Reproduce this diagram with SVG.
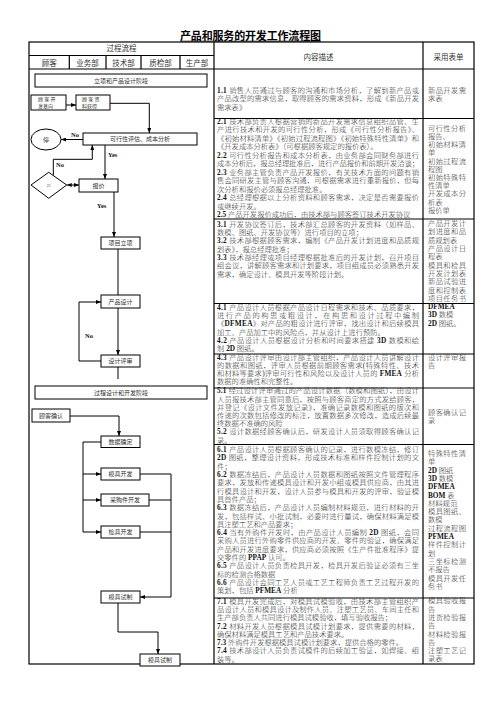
<svg xmlns="http://www.w3.org/2000/svg" width="496" height="702" viewBox="0 0 496 702">
<style>
.t{font-family:"Liberation Serif","Noto Sans CJK SC",serif;font-size:7.3px;font-weight:300;fill:#2a2a2a}
.b{font-weight:bold;fill:#111}
.h{font-family:"Liberation Serif","Noto Sans CJK SC",serif;font-size:7.5px;fill:#333;text-anchor:middle}
.f{font-family:"Liberation Serif","Noto Sans CJK SC",serif;font-size:6px;fill:#333;text-anchor:middle}
.s{font-family:"Liberation Serif","Noto Sans CJK SC",serif;font-size:5px;fill:#333}
.yn{font-family:"Liberation Serif",serif;font-weight:bold;font-size:6.5px;fill:#111}
.box{fill:#fff;stroke:#000;stroke-width:1}
.ln{fill:none;stroke:#000;stroke-width:1}
.tb{fill:none;stroke:#000;stroke-width:1.2}
</style>
<defs>
<marker id="ar" viewBox="0 0 5 4" markerWidth="5" markerHeight="4" refX="5" refY="2" orient="auto-start-reverse" markerUnits="userSpaceOnUse"><path d="M0,0L5,2L0,4z" fill="#000"/></marker>
</defs>
<rect width="496" height="702" fill="#fff"/>
<text x="180" y="39.5" textLength="141" style="font-family:'Liberation Serif','Noto Sans CJK SC',serif;font-weight:bold;font-size:11px;fill:#000">产品和服务的开发工作流程图</text>
<line x1="180" y1="41.2" x2="321" y2="41.2" stroke="#000" stroke-width="0.8"/>
<g id="table">
<rect x="29" y="42" width="445" height="622" class="tb"/>
<path class="tb" d="M214,42V664M423,42V664M29,55.5H214M29,69H474M69.3,55.5V69M106,55.5V69M141,55.5V69M180,55.5V69M214,118.5H474M214,219H474M214,303.5H474M214,354H474M214,388H474M214,444.5H474M214,598H474"/>
<text class="h" x="121.5" y="51.2">过程流程</text>
<text class="h" x="49.3" y="65.5">顾客</text>
<text class="h" x="87.6" y="65.5">业务部</text>
<text class="h" x="123.5" y="65.5">技术部</text>
<text class="h" x="160.5" y="65.5">质检部</text>
<text class="h" x="197" y="65.5">生产部</text>
<text class="h" x="318.5" y="60">内容描述</text>
<text class="h" x="448.5" y="60">采用表单</text>
</g>
<g id="content" class="t">
<text x="217" y="92.8" textLength="202" lengthAdjust="spacing"><tspan class="b">1.1 </tspan>销售人员通过与顾客的沟通和市场分析，了解到新产品或</text>
<text x="217" y="101.1" textLength="202" lengthAdjust="spacing">产品改型的需求信息，取得顾客的需求资料，形成《新品开发</text>
<text x="217" y="109.5">需求表》</text>
<text x="217" y="123.8" textLength="202" lengthAdjust="spacing"><tspan class="b">2.1 </tspan>技术部负责人根据营销的新品开发需求信息组织品管、生</text>
<text x="217" y="132.3" textLength="202" lengthAdjust="spacing">产进行技术和开发的可行性分析，形成《可行性分析报告》、</text>
<text x="217" y="140.8" textLength="202" lengthAdjust="spacing">《初始材料清单》《初始过程流程图》《初始特殊特性清单》和</text>
<text x="217" y="149.3">《开发成本分析表》（可根据顾客规定的报价表）。</text>
<text x="217" y="157.8" textLength="202" lengthAdjust="spacing"><tspan class="b">2.2 </tspan>可行性分析报告和成本分析表，由业务部会同财务部进行</text>
<text x="217" y="166.3" textLength="202" lengthAdjust="spacing">成本分析后，报总经理批准后，进行产品报价和前期开发洽谈；</text>
<text x="217" y="174.8" textLength="202" lengthAdjust="spacing"><tspan class="b">2.3 </tspan>业务部主管负责产品开发报价，有关技术方面的问题有销</text>
<text x="217" y="183.3" textLength="202" lengthAdjust="spacing">售会同研发主管与顾客沟通，可根据需求进行重新报价，但每</text>
<text x="217" y="191.8">次分析和报价必须报总经理批准。</text>
<text x="217" y="200.3" textLength="202" lengthAdjust="spacing"><tspan class="b">2.4 </tspan>总经理根据以上分析资料和顾客需求，决定是否需要报价</text>
<text x="217" y="208.8">或继续开发。</text>
<text x="217" y="217.3"><tspan class="b">2.5 </tspan>产品开发报价成功后，由技术部与顾客签订技术开发协议</text>
<text x="217" y="226.8" textLength="202" lengthAdjust="spacing"><tspan class="b">3.1 </tspan>开发协议签订后，技术部汇总顾客的开发资料（如样品、</text>
<text x="217" y="235.1">数模、图纸、开发协议等）进行项目的立项；</text>
<text x="217" y="243.4" textLength="202" lengthAdjust="spacing"><tspan class="b">3.2 </tspan>技术部根据顾客需求，编制《产品开发计划进度和品质规</text>
<text x="217" y="251.7">划表》，报总经理批准；</text>
<text x="217" y="260" textLength="202" lengthAdjust="spacing"><tspan class="b">3.3 </tspan>技术部经理或项目经理根据批准后的开发计划，召开项目</text>
<text x="217" y="268.3" textLength="202" lengthAdjust="spacing">组会议，讲解顾客需求和计划要求，项目组成员必须熟悉开发</text>
<text x="217" y="276.6">需求，确定设计、模具开发等阶段计划。</text>
<text x="217" y="309.5" textLength="202" lengthAdjust="spacing"><tspan class="b">4.1 </tspan>产品设计人员根据产品设计日程需求和技术、品质要求，</text>
<text x="217" y="317.8" textLength="202" lengthAdjust="spacing">进行产品的构思或粗设计，在构思和设计过程中编制</text>
<text x="217" y="326.1" textLength="202" lengthAdjust="spacing">《<tspan class="b">DFMEA</tspan>》对产品的粗设计进行评审，找出设计和后续模具</text>
<text x="217" y="334.5">加工、产品加工中的风险点，并从设计上进行预防。</text>
<text x="217" y="342.8" textLength="202" lengthAdjust="spacing"><tspan class="b">4.2 </tspan>产品设计人员根据设计分析和时间要求搭建 <tspan class="b">3D</tspan> 数模和绘</text>
<text x="217" y="351.1">制 <tspan class="b">2D</tspan> 图纸。</text>
<text x="217" y="359.5" textLength="202" lengthAdjust="spacing"><tspan class="b">4.3 </tspan>产品设计评审由设计部主管组织，产品设计人员讲解设计</text>
<text x="217" y="367.8" textLength="202" lengthAdjust="spacing">的数据和图纸，评审人员根据前期顾客需求(特殊特性、技术</text>
<text x="217" y="376.1" textLength="202" lengthAdjust="spacing">和材料等要求)评审可行性和风险以及设计人员的 <tspan class="b">FMEA</tspan> 分析</text>
<text x="217" y="384.4">数据的准确性和完整性。</text>
<text x="217" y="393.3" textLength="202" lengthAdjust="spacing"><tspan class="b">5.1 </tspan>经过设计评审通过的产品设计数据（数模和图纸），由设计</text>
<text x="217" y="401.5" textLength="202" lengthAdjust="spacing">人员报技术部主管同意后，按照与顾客商定的方式发给顾客，</text>
<text x="217" y="409.7" textLength="202" lengthAdjust="spacing">并登记《设计文件发放记录》，准确记录数模和图纸的版次和</text>
<text x="217" y="417.9" textLength="202" lengthAdjust="spacing">传递的次数包括修改的标注，放置数据多次修改，造成后续最</text>
<text x="217" y="426.1">终数据不准确的风险</text>
<text x="217" y="434.3" textLength="202" lengthAdjust="spacing"><tspan class="b">5.2 </tspan>设计数据经顾客确认后，研发设计人员须取得顾客确认记</text>
<text x="217" y="442.5">录。</text>
<text x="217" y="452.1" textLength="202" lengthAdjust="spacing"><tspan class="b">6.1 </tspan>产品设计人员根据顾客确认的记录，进行数模冻结，修订</text>
<text x="217" y="460.4" textLength="202" lengthAdjust="spacing"><tspan class="b">2D</tspan> 图纸，整理设计资料，形成技术标准和样件控制计划的文</text>
<text x="217" y="468.7">件；</text>
<text x="217" y="477" textLength="202" lengthAdjust="spacing"><tspan class="b">6.2 </tspan>数据冻结后，产品设计人员数据和图纸按照文件管理程序</text>
<text x="217" y="485.3" textLength="202" lengthAdjust="spacing">要求，发放和传递模具设计和开发小组或模具供应商，由其进</text>
<text x="217" y="493.6" textLength="202" lengthAdjust="spacing">行模具设计和开发，设计人员参与模具和开发的评审，验证模</text>
<text x="217" y="501.9">具首件产品；</text>
<text x="217" y="510.2" textLength="202" lengthAdjust="spacing"><tspan class="b">6.3 </tspan>数据冻结后，产品设计人员编制材料规范，进行材料的开</text>
<text x="217" y="518.5" textLength="202" lengthAdjust="spacing">发，包括样试、小批试制，必要时进行量试，确保材料满足模</text>
<text x="217" y="526.8">具注塑工艺和产品要求；</text>
<text x="217" y="535.1" textLength="202" lengthAdjust="spacing"><tspan class="b">6.4 </tspan>当有外购件开发时，由产品设计人员编制 <tspan class="b">2D</tspan> 图纸，会同</text>
<text x="217" y="543.4" textLength="202" lengthAdjust="spacing">采购人员进行外购零件供应商的开发、零件的验证，确保满足</text>
<text x="217" y="551.7" textLength="202" lengthAdjust="spacing">产品和开发进度要求，供应商必须按照《生产件批准程序》提</text>
<text x="217" y="560">交零件的 <tspan class="b">PPAP</tspan> 认可。</text>
<text x="217" y="568.3" textLength="202" lengthAdjust="spacing"><tspan class="b">6.5 </tspan>产品设计人员负责检具开发，检具开发后验证必须有三坐</text>
<text x="217" y="576.6">标的检测合格数据</text>
<text x="217" y="584.9" textLength="202" lengthAdjust="spacing"><tspan class="b">6.6 </tspan>产品设计会同工艺人员或工艺工程师负责工艺过程开发的</text>
<text x="217" y="593.2">策划，包括 <tspan class="b">PFMEA</tspan> 分析</text>
<text x="217" y="603.8" textLength="202" lengthAdjust="spacing"><tspan class="b">7.1 </tspan>模具开发完成后，对模具试模验收，由技术部主管组织产</text>
<text x="217" y="612" textLength="202" lengthAdjust="spacing">品设计人员和模具设计及制作人员、注塑工艺员、车间主任和</text>
<text x="217" y="620.3">生产部负责人共同进行模具试模验收，填写验收报告；</text>
<text x="217" y="628.5" textLength="202" lengthAdjust="spacing"><tspan class="b">7.2 </tspan>材料开发人员根据模具试模计划要求，提供需要的材料，</text>
<text x="217" y="636.8">确保材料满足模具工艺和产品技术要求。</text>
<text x="217" y="645"><tspan class="b">7.3 </tspan>外购件开发根据模具试模计划要求，提供合格的零件。</text>
<text x="217" y="653.3" textLength="202" lengthAdjust="spacing"><tspan class="b">7.4 </tspan>技术部设计人员负责试模件的后续加工验证，如焊接、组</text>
<text x="217" y="661.5">装等。</text>
</g>
<g id="forms" class="t">
<text x="428" y="92.8" textLength="38" lengthAdjust="spacing">新品开发需</text>
<text x="428" y="101.1">求表</text>
<text x="428" y="130.8" textLength="38" lengthAdjust="spacing">可行性分析</text>
<text x="428" y="139">报告、</text>
<text x="428" y="147.2" textLength="38" lengthAdjust="spacing">初始材料清</text>
<text x="428" y="155.4">单</text>
<text x="428" y="163.6" textLength="38" lengthAdjust="spacing">初始过程流</text>
<text x="428" y="171.8">程图</text>
<text x="428" y="180" textLength="38" lengthAdjust="spacing">初始特殊特</text>
<text x="428" y="188.2">性清单</text>
<text x="428" y="196.4" textLength="38" lengthAdjust="spacing">开发成本分</text>
<text x="428" y="204.6">析表</text>
<text x="428" y="212.8">报价单</text>
<text x="428" y="226.1" textLength="38" lengthAdjust="spacing">产品开发计</text>
<text x="428" y="234.4" textLength="38" lengthAdjust="spacing">划进度和品</text>
<text x="428" y="242.8">质规划表</text>
<text x="428" y="251.1" textLength="38" lengthAdjust="spacing">产品设计日</text>
<text x="428" y="259.4">程表</text>
<text x="428" y="267.8" textLength="38" lengthAdjust="spacing">模具和检具</text>
<text x="428" y="276.1" textLength="38" lengthAdjust="spacing">开发计划表</text>
<text x="428" y="284.4" textLength="38" lengthAdjust="spacing">新品试验进</text>
<text x="428" y="292.7" textLength="38" lengthAdjust="spacing">度和控制表</text>
<text x="428" y="301.1" textLength="38" lengthAdjust="spacing">项目任务书</text>
<text x="428" y="308.8"><tspan class="b">DFMEA</tspan></text>
<text x="428" y="317.1"><tspan class="b">3D</tspan> 数模</text>
<text x="428" y="325.5"><tspan class="b">2D</tspan> 图纸。</text>
<text x="428" y="359.5" textLength="38" lengthAdjust="spacing">设计评审报</text>
<text x="428" y="367.8">告</text>
<text x="428" y="414.8" textLength="38" lengthAdjust="spacing">顾客确认记</text>
<text x="428" y="422.8">录</text>
<text x="428" y="456.1" textLength="38" lengthAdjust="spacing">特殊特性清</text>
<text x="428" y="464.4">单</text>
<text x="428" y="472.7"><tspan class="b">2D</tspan> 图纸</text>
<text x="428" y="481"><tspan class="b">3D</tspan> 数模</text>
<text x="428" y="489.3"><tspan class="b">DFMEA</tspan></text>
<text x="428" y="497.6"><tspan class="b">BOM</tspan> 表</text>
<text x="428" y="505.9">材料规范</text>
<text x="428" y="514.1" textLength="38" lengthAdjust="spacing">模具图纸、</text>
<text x="428" y="522.4">数模</text>
<text x="428" y="530.7" textLength="38" lengthAdjust="spacing">过程流程图</text>
<text x="428" y="539"><tspan class="b">PFMEA</tspan></text>
<text x="428" y="547.3" textLength="38" lengthAdjust="spacing">样件控制计</text>
<text x="428" y="555.6">划</text>
<text x="428" y="563.9" textLength="38" lengthAdjust="spacing">三坐标检测</text>
<text x="428" y="572.2">不报告</text>
<text x="428" y="580.5" textLength="38" lengthAdjust="spacing">模具开发任</text>
<text x="428" y="588.7">务书</text>
<text x="428" y="603.3" textLength="38" lengthAdjust="spacing">模具验收报</text>
<text x="428" y="611.6">告</text>
<text x="428" y="619.9" textLength="38" lengthAdjust="spacing">进货检验报</text>
<text x="428" y="628.2">告</text>
<text x="428" y="636.5" textLength="38" lengthAdjust="spacing">材料检验报</text>
<text x="428" y="644.8">告</text>
<text x="428" y="653.1" textLength="38" lengthAdjust="spacing">注塑工艺记</text>
<text x="428" y="661.4">录表</text>
</g>
<g id="connectors">
<path class="ln" d="M66,105H76" marker-end="url(#ar)"/>
<path class="ln" d="M110,103.3H149.3V133" marker-end="url(#ar)"/>
<path class="ln" d="M83,139.5H61" marker-end="url(#ar)"/>
<path class="ln" d="M105,145V179" marker-end="url(#ar)"/>
<path class="ln" d="M53.3,175.6V159.3H92.3V145" marker-end="url(#ar)"/>
<path class="ln" d="M66.7,185H79" marker-start="url(#ar)" marker-end="url(#ar)"/>
<path class="ln" d="M114,192V237" marker-end="url(#ar)"/>
<path class="ln" d="M118,249V295"/>
<path class="ln" d="M118,308V355" marker-end="url(#ar)"/>
<path class="ln" d="M101,361H79V302H101" marker-end="url(#ar)"/>
<path class="ln" d="M118,367V379"/>
<path class="ln" d="M70,416H119V436" marker-end="url(#ar)"/>
<path class="ln" d="M101,442H83V532H101" marker-end="url(#ar)"/>
<path class="ln" d="M83,474H101" marker-end="url(#ar)"/>
<path class="ln" d="M83,500H101" marker-end="url(#ar)"/>
<path class="ln" d="M140,474H171M149,500H171M140,532H171"/>
<path class="ln" d="M171,474V597H140" marker-end="url(#ar)"/>
<path class="ln" d="M118,603V632H158V654" marker-end="url(#ar)"/>
<text class="yn" x="71" y="137">No</text>
<text class="yn" x="108" y="156.5">Yes</text>
<text class="yn" x="56" y="166.5">No</text>
<text class="yn" x="97" y="207.5">Yes</text>
<text class="yn" x="85" y="337.5">No</text>
</g>
<g id="n-stage1"><rect class="box" x="35" y="74" width="172" height="13"/><text class="f" x="121" y="82.6">立项和产品设计阶段</text></g>
<g id="n-intent"><rect class="box" x="31" y="95" width="35" height="15"/><text class="s" x="38" y="101">顾 客 开</text><text class="s" x="38" y="107.5">发意向</text></g>
<g id="n-data"><rect class="box" x="76" y="95" width="34" height="15"/><text class="s" x="82" y="101">顾 客 资</text><text class="s" x="82" y="107.5">料获得</text></g>
<g id="n-stop"><ellipse class="box" cx="46" cy="139.5" rx="15" ry="10.5"/><text class="f" x="46" y="141.6">停</text></g>
<g id="n-feas"><rect class="box" x="83" y="133" width="114" height="12"/><text class="f" x="140" y="141.1">可行性评估、成本分析</text></g>
<g id="n-dec"><polygon class="box" points="31,185 48.7,172.3 66.7,185 48.7,198.3"/><text class="s" x="48.7" y="186.7" text-anchor="middle" style="font-size:4px">21</text></g>
<g id="n-quote"><rect class="box" x="79" y="179" width="39" height="13"/><text class="f" x="98.5" y="187.6">报价</text></g>
<g id="n-proj"><rect class="box" x="101" y="237" width="39" height="12"/><text class="f" x="120.5" y="245.1">项目立项</text></g>
<g id="n-design"><rect class="box" x="101" y="295" width="39" height="13"/><text class="f" x="120.5" y="303.6">产品设计</text></g>
<g id="n-review"><rect class="box" x="101" y="355" width="39" height="12"/><text class="f" x="120.5" y="363.1">设计评审</text></g>
<g id="n-stage2"><rect class="box" x="35" y="386" width="172" height="13"/><text class="f" x="121" y="394.6">过程设计和开发阶段</text></g>
<g id="n-confirm"><rect class="box" x="32" y="409" width="38" height="13"/><text class="f" x="51" y="417.6">顾客确认</text></g>
<g id="n-freeze"><rect class="box" x="101" y="436" width="39" height="11.5"/><text class="f" x="120.5" y="443.8">数据确定</text></g>
<g id="n-mold"><rect class="box" x="101" y="468" width="39" height="12"/><text class="f" x="120.5" y="476.1">模具开发</text></g>
<g id="n-purch"><rect class="box" x="101" y="494" width="48" height="12"/><text class="f" x="125" y="502.1">采购件开发</text></g>
<g id="n-gauge"><rect class="box" x="101" y="526" width="39" height="12"/><text class="f" x="120.5" y="534.1">检具开发</text></g>
<g id="n-trial1"><rect class="box" x="101" y="591" width="39" height="12"/><text class="f" x="120.5" y="599.1">模具试制</text></g>
<g id="n-trial2"><rect class="box" x="140" y="654" width="40" height="12"/><text class="f" x="160" y="662.1">模具试制</text></g>
</svg>
